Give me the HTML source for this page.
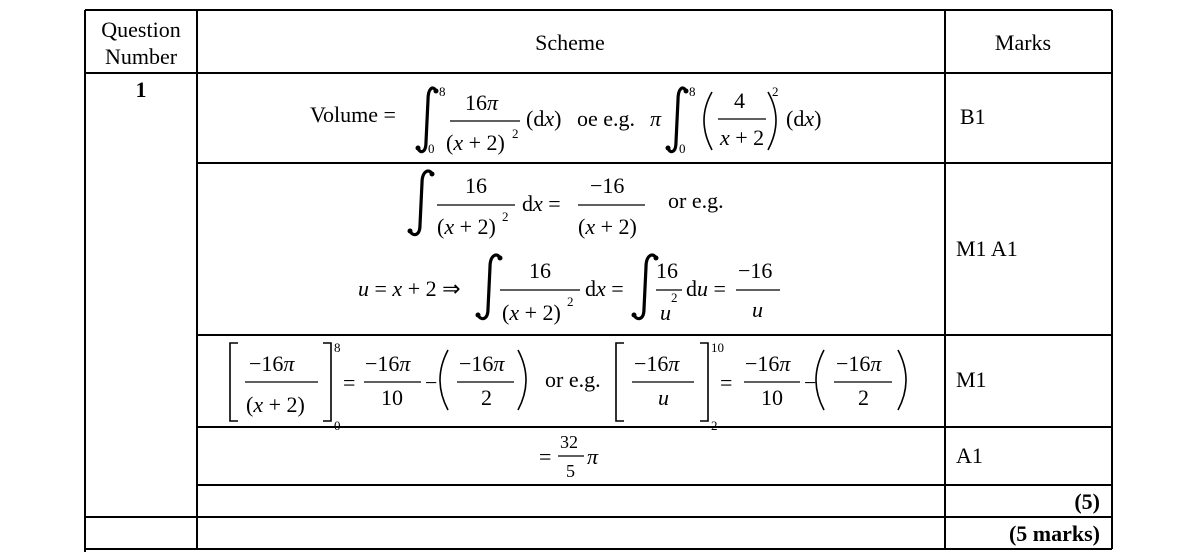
<!DOCTYPE html>
<html><head><meta charset="utf-8"><style>
html,body{margin:0;padding:0;background:#fff;}
svg{display:block;}
text{font-family:"Liberation Serif",serif;fill:#000;}
.i{font-style:italic;}
</style></head><body>
<svg width="1190" height="552" viewBox="0 0 1190 552" xmlns="http://www.w3.org/2000/svg">
<g stroke="#000" stroke-width="2" fill="none">
<line x1="85" y1="10" x2="1112" y2="10"/>
<line x1="85" y1="73" x2="1112" y2="73"/>
<line x1="197" y1="163" x2="1112" y2="163"/>
<line x1="197" y1="335" x2="1112" y2="335"/>
<line x1="197" y1="427" x2="1112" y2="427"/>
<line x1="197" y1="485" x2="1112" y2="485"/>
<line x1="85" y1="517" x2="1112" y2="517"/>
<line x1="85" y1="549" x2="1112" y2="549"/>
<line x1="85" y1="10" x2="85" y2="552"/>
<line x1="197" y1="10" x2="197" y2="549"/>
<line x1="945" y1="10" x2="945" y2="549"/>
<line x1="1112" y1="10" x2="1112" y2="549"/>
</g>
<g font-size="22">
<text x="141" y="37" text-anchor="middle">Question</text>
<text x="141" y="64" text-anchor="middle">Number</text>
<text x="570" y="50" text-anchor="middle">Scheme</text>
<text x="1023" y="50" text-anchor="middle">Marks</text>
<text x="141" y="97" text-anchor="middle" font-weight="bold">1</text>
<text x="960" y="124">B1</text>
<text x="956" y="256">M1 A1</text>
<text x="956" y="387">M1</text>
<text x="956" y="463">A1</text>
<text x="1100" y="509" text-anchor="end" font-weight="bold">(5)</text>
<text x="1100" y="541" text-anchor="end" font-weight="bold">(5 marks)</text>
</g>
<g stroke="#000" stroke-width="3.2" fill="none" stroke-linecap="round">
<path d="M436 91 C433 85 428 88 428 100 L426 142 C426 153 420 154 418 148"/>
<path d="M686 91 C683 85 678 88 678 100 L676 142 C676 153 670 154 668 148"/>
<path d="M432 174 C429 168 422 171 422 183 L420 225 C420 236 413 237 410 231"/>
<path d="M500 258 C497 252 490 255 490 267 L488 309 C488 320 481 321 478 315"/>
<path d="M656 258 C653 252 646 255 646 267 L644 309 C644 320 637 321 634 315"/>
</g>
<g fill="#000">
<circle cx="436" cy="91" r="2.5"/><circle cx="418" cy="148" r="2.5"/>
<circle cx="686" cy="91" r="2.5"/><circle cx="668" cy="148" r="2.5"/>
<circle cx="432" cy="174" r="2.5"/><circle cx="410" cy="231" r="2.5"/>
<circle cx="500" cy="258" r="2.5"/><circle cx="478" cy="315" r="2.5"/>
<circle cx="656" cy="258" r="2.5"/><circle cx="634" cy="315" r="2.5"/>
</g>
<g stroke="#000" stroke-width="1.3">
<line x1="450" y1="121" x2="520" y2="121"/>
<line x1="718" y1="119" x2="766" y2="119"/>
<line x1="437" y1="205" x2="515" y2="205"/>
<line x1="578" y1="205" x2="645" y2="205"/>
<line x1="500" y1="290" x2="580" y2="290"/>
<line x1="656" y1="290" x2="682" y2="290"/>
<line x1="736" y1="290" x2="780" y2="290"/>
<line x1="245" y1="382" x2="318" y2="382"/>
<line x1="364" y1="382" x2="421" y2="382"/>
<line x1="457" y1="382" x2="514" y2="382"/>
<line x1="632" y1="382" x2="694" y2="382"/>
<line x1="744" y1="382" x2="800" y2="382"/>
<line x1="834" y1="382" x2="892" y2="382"/>
<line x1="558" y1="456" x2="584" y2="456"/>
</g>
<g stroke="#000" stroke-width="1.6" fill="none">
<path d="M712 92 Q696 120 712 150"/><path d="M768 92 Q784 120 768 150"/>
<path d="M238 343 L230 343 L230 421 L238 421"/><path d="M323 343 L331 343 L331 421 L323 421"/>
<path d="M624 343 L616 343 L616 421 L624 421"/><path d="M700 343 L708 343 L708 421 L700 421"/>
<path d="M448 350 Q432 380 448 410"/><path d="M518 350 Q534 380 518 410"/>
<path d="M824 350 Q808 380 824 410"/><path d="M898 350 Q914 380 898 410"/>
</g>
<g font-size="22">
<text x="310" y="122">Volume =</text>
<text x="439" y="96" font-size="13">8</text><text x="428" y="153" font-size="13">0</text>
<text x="465" y="110">16<tspan class="i">π</tspan></text>
<text x="446" y="150">(<tspan class="i">x</tspan> + 2)</text><text x="512" y="138" font-size="13">2</text>
<text x="526" y="126">(d<tspan class="i">x</tspan>)</text>
<text x="577" y="126">oe e.g.</text>
<text x="650" y="126" class="i">π</text>
<text x="689" y="96" font-size="13">8</text><text x="679" y="153" font-size="13">0</text>
<text x="734" y="108">4</text>
<text x="720" y="145"><tspan class="i">x</tspan> + 2</text>
<text x="772" y="96" font-size="13">2</text>
<text x="786" y="126">(d<tspan class="i">x</tspan>)</text>

<text x="465" y="193">16</text>
<text x="437" y="234">(<tspan class="i">x</tspan> + 2)</text><text x="502" y="221" font-size="13">2</text>
<text x="522" y="211">d<tspan class="i">x</tspan> =</text>
<text x="590" y="193">−16</text>
<text x="578" y="234">(<tspan class="i">x</tspan> + 2)</text>
<text x="668" y="208">or e.g.</text>

<text x="358" y="296"><tspan class="i">u</tspan> = <tspan class="i">x</tspan> + 2 ⇒</text>
<text x="529" y="278">16</text>
<text x="502" y="320">(<tspan class="i">x</tspan> + 2)</text><text x="567" y="306" font-size="13">2</text>
<text x="585" y="296">d<tspan class="i">x</tspan> =</text>
<text x="656" y="278">16</text>
<text x="660" y="320" class="i">u</text><text x="671" y="302" font-size="13">2</text>
<text x="686" y="296">d<tspan class="i">u</tspan> =</text>
<text x="738" y="278">−16</text>
<text x="752" y="317" class="i">u</text>

<text x="249" y="371">−16<tspan class="i">π</tspan></text>
<text x="246" y="412">(<tspan class="i">x</tspan> + 2)</text>
<text x="334" y="352" font-size="13">8</text><text x="334" y="430" font-size="13">0</text>
<text x="343" y="390">=</text>
<text x="365" y="371">−16<tspan class="i">π</tspan></text>
<text x="381" y="405">10</text>
<text x="425" y="390">−</text>
<text x="459" y="371">−16<tspan class="i">π</tspan></text>
<text x="481" y="405">2</text>
<text x="545" y="387">or e.g.</text>
<text x="634" y="371">−16<tspan class="i">π</tspan></text>
<text x="658" y="405" class="i">u</text>
<text x="711" y="352" font-size="13">10</text><text x="711" y="430" font-size="13">2</text>
<text x="720" y="390">=</text>
<text x="745" y="371">−16<tspan class="i">π</tspan></text>
<text x="761" y="405">10</text>
<text x="804" y="390">−</text>
<text x="836" y="371">−16<tspan class="i">π</tspan></text>
<text x="858" y="405">2</text>

<text x="539" y="464">=</text>
<text x="560" y="448" font-size="18">32</text>
<text x="566" y="477" font-size="18">5</text>
<text x="587" y="464" class="i">π</text>
</g>
</svg>
</body></html>
